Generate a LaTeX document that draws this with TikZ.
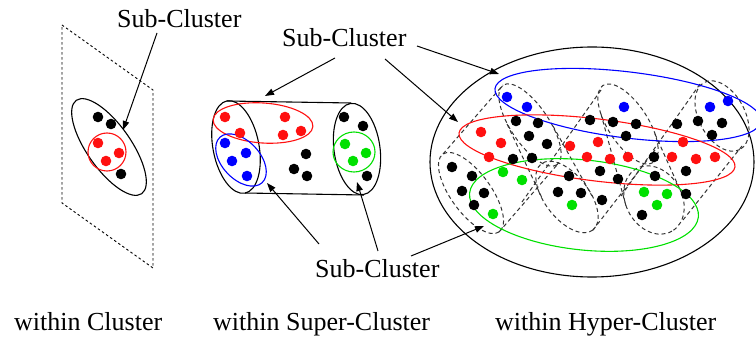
\documentclass[tikz,border=0pt]{standalone}
\usepackage{fontspec}
\setmainfont{Liberation Serif}
\usetikzlibrary{arrows.meta}
\definecolor{ink}{HTML}{000000}
\definecolor{dgray}{HTML}{333333}
\definecolor{sred}{HTML}{FF1010}
\definecolor{sblue}{HTML}{0000FF}
\definecolor{sgreen}{HTML}{00E000}
\tikzset{
  base/.style={draw=ink, line width=1.1pt},
  frame/.style={draw=ink, line width=0.9pt, dash pattern=on 2.5pt off 2.5pt},
  clus/.style={draw=dgray, line width=1pt, dash pattern=on 4pt off 3pt},
  sub/.style={line width=1.1pt},
  arr/.style={draw=ink, line width=1pt, -{Triangle[length=9pt,width=6.5pt]}},
  lab/.style={font=\fontsize{26}{30}\selectfont, inner sep=0pt, anchor=base west},
}
\newcommand{\putdots}[2]{\foreach \x/\y in {#2} \fill[#1] (\x,\y) circle (5.3);}

\begin{document}
\begin{tikzpicture}[x=1pt, y=-1pt]
  \useasboundingbox (0,0) rectangle (756,339);

  % within cluster
  \draw[frame] (62,25) -- (153,90) -- (153,268) -- (62,203) -- cycle;
  \draw[base, rotate around={-55:(109,147)}] (109,147) ellipse (57 and 22);
  \draw[sub, sred] (107,152) circle (19);
  \putdots{ink}{98/117, 111/124, 121/174}
  \putdots{sred}{98/143, 119/153, 106/161}
  \coordinate (t1) at (123,130);

  % within super-cluster
  \coordinate (cl1) at (227,101);  \coordinate (cl2) at (245,193);
  \coordinate (cr1) at (351,103);  \coordinate (cr2) at (364,195);
  \draw[base, rotate around={11:(236,147)}] (236,147) ellipse (23 and 47);
  \draw[base, rotate around={8:(357,149)}] (357,149) ellipse (23 and 46);
  \draw[base] (cl1) -- (cr1);
  \draw[base] (cl2) -- (cr2);
  \draw[sub, sred, rotate around={-4:(263,123)}] (263,123) ellipse (50 and 20);
  \draw[sub, sblue, rotate around={-47:(241,160)}] (241,160) ellipse (31 and 19);
  \draw[sub, sgreen] (354,152) ellipse (21 and 20);
  \putdots{sred}{225/117, 240/133, 285/117, 283/135, 301/131}
  \putdots{sblue}{225/143, 246/153, 232/161, 247/176}
  \putdots{ink}{306/154, 294/169, 307/176, 344/117, 363/126, 367/176}
  \putdots{sgreen}{345/144, 366/153, 353/161}
  \coordinate (t2) at (265,96);
  \coordinate (t4) at (267,183);
  \coordinate (t5) at (357,182);

  % within hyper-cluster: a zigzag of dashed super-clusters
  \draw[base] (592,162) ellipse (162 and 115);
  \draw[clus, rotate around={-56:(530,125)}] (530,125) ellipse (48 and 19);
  \draw[clus, rotate around={-54:(471,193)}] (471,193) ellipse (48 and 20);
  \draw[clus, rotate around={-57:(628,124)}] (628,124) ellipse (46 and 20);
  \draw[clus, rotate around={-52:(567,197)}] (567,197) ellipse (42 and 22);
  \draw[clus, rotate around={-62:(722,116)}] (722,116) ellipse (38 and 23);
  \draw[clus, rotate around={-60:(654,200)}] (654,200) ellipse (36 and 28);
  \draw[clus] (443,154) -- (503,85);
  \draw[clus] (499,232) -- (557,165);
  \draw[clus] (507,124) -- (542,198);
  \draw[clus] (553,126) -- (592,196);
  \draw[clus] (522,202) -- (601,90);
  \draw[clus] (593,230) -- (655,150);
  \draw[clus] (601,114) -- (626,206);
  \draw[clus] (655,134) -- (682,194);
  \draw[clus] (621,196) -- (700,84);
  \draw[clus] (683,220) -- (742,146);
  \draw[sub, sblue, rotate around={-7:(628,105)}] (628,105) ellipse (134 and 33);
  \draw[sub, sred, rotate around={-7:(597,150)}] (597,150) ellipse (139 and 31);
  \draw[sub, sgreen, rotate around={-6:(584,205)}] (584,205) ellipse (115 and 45);
  \putdots{sblue}{507/97, 527/107, 624/107, 710/107, 728/101}
  \putdots{ink}{516/121, 538/123, 529/136, 547/144, 590/120, 613/122, 636/124,
    626/136, 677/124, 698/121, 722/123, 712/135, 513/159, 532/158, 452/167,
    472/176, 462/191, 484/193, 474/205, 569/176, 600/171, 618/179, 558/192,
    581/193, 602/200, 654/157, 655/176, 686/171, 686/194, 642/215}
  \putdots{sred}{481/132, 501/143, 489/157, 570/146, 598/142, 587/157, 610/159,
    628/157, 683/142, 672/157, 696/159, 715/157}
  \putdots{sgreen}{503/172, 522/180, 493/214, 572/205, 644/192, 667/194, 657/205}
  \coordinate (t3) at (458,122);
  \coordinate (t6) at (499,74);
  \coordinate (t7) at (484,226);

  % labels
  \node[lab] (sc1) at (117,28) {Sub-Cluster};
  \node[lab] (sc2) at (282,47) {Sub-Cluster};
  \node[lab] (sc3) at (315,278) {Sub-Cluster};
  \node[lab] (w1) at (14,331) {within Cluster};
  \node[lab] (w2) at (213,331) {within Super-Cluster};
  \node[lab] (w3) at (495,331) {within Hyper-Cluster};

  \draw[arr] ([xshift=40pt,yshift=-5pt]sc1.base west) -- (t1);
  \draw[arr] ([xshift=53pt,yshift=-11pt]sc2.base west) -- (t2);
  \draw[arr] ([xshift=103pt,yshift=-12pt]sc2.base west) -- (t3);
  \draw[arr] ([xshift=135pt,yshift=1pt]sc2.base west) -- (t6);
  \draw[arr] ([xshift=4pt,yshift=34pt]sc3.base west) -- (t4);
  \draw[arr] ([xshift=63pt,yshift=27pt]sc3.base west) -- (t5);
  \draw[arr] ([xshift=96pt,yshift=22pt]sc3.base west) -- (t7);
\end{tikzpicture}
\end{document}
